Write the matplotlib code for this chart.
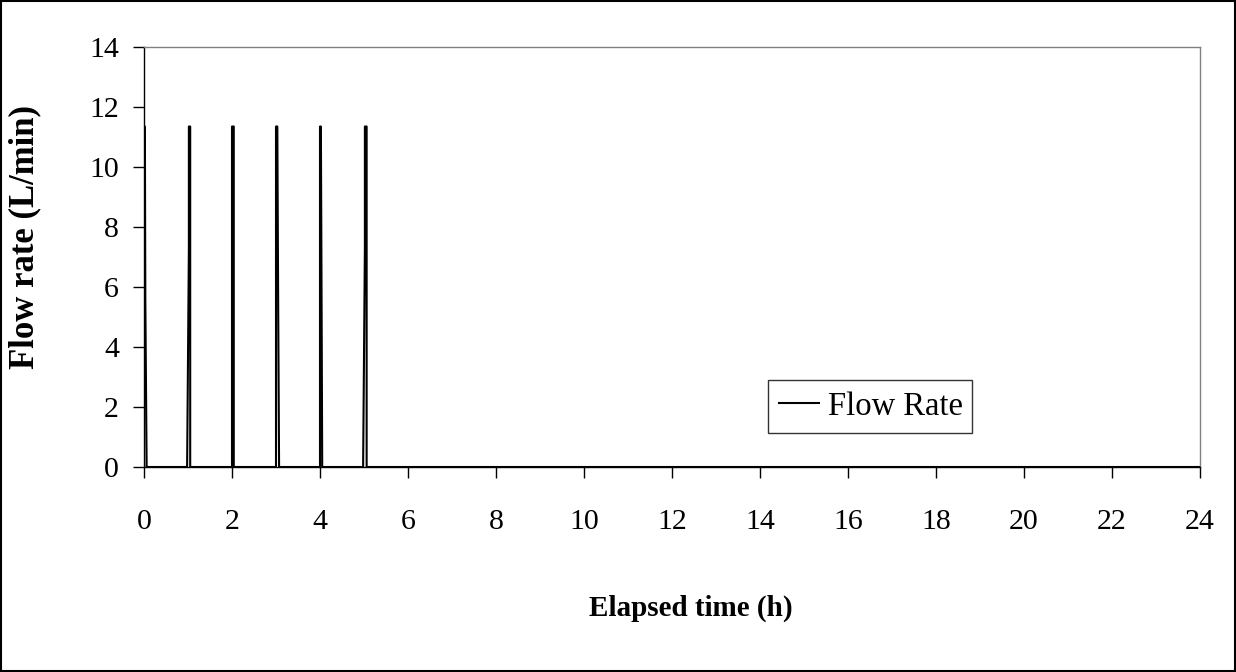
import matplotlib
matplotlib.use("Agg")
import matplotlib.pyplot as plt
from matplotlib.patches import Rectangle

# Data: elapsed time (h) and flow rate (L/min)
time_h = [0.00, 0.00, 0.02, 0.03, 0.06,
          0.98, 1.02, 1.02, 1.05, 1.05,
          2.00, 2.00, 2.04, 2.04,
          3.00, 3.00, 3.03, 3.05, 3.07,
          4.00, 4.00, 4.02, 4.04, 4.05,
          4.98, 5.02, 5.02, 5.06, 5.06,
          24.0]
flow = [0.0, 11.35, 11.35, 5.6, 0.0,
        0.0, 7.3, 11.35, 11.35, 0.0,
        0.0, 11.35, 11.35, 0.0,
        0.0, 11.35, 11.35, 5.2, 0.0,
        0.0, 11.35, 11.35, 4.0, 0.0,
        0.0, 7.3, 11.35, 11.35, 0.0,
        0.0]
x_ticks = list(range(0, 25, 2))
y_ticks = list(range(0, 15, 2))

plt.rcParams['font.family'] = ['Liberation Serif', 'DejaVu Serif']

fig = plt.figure(figsize=(12.36, 6.72), dpi=100)
ax = fig.add_axes([144/1236, 1 - 467/672, (1200-144)/1236, (467-47)/672])

ax.plot(time_h, flow, color='black', lw=1.5, label='Flow Rate')
ax.set_xlim(0, 24)
ax.set_ylim(0, 14)
ax.set_xticks(x_ticks)
ax.set_yticks(y_ticks)
ax.tick_params(labelsize=21.5, direction='out', length=8, width=1, colors='black')
ax.tick_params(axis='y', pad=10)
ax.tick_params(axis='x', pad=22)
for s in ['top', 'right']:
    ax.spines[s].set_color('#808080')
    ax.spines[s].set_linewidth(1)
for s in ['left', 'bottom']:
    ax.spines[s].set_color('black')
    ax.spines[s].set_linewidth(1)

ax.set_xlabel('Elapsed time (h)', fontsize=21, fontweight='bold')
ax.set_ylabel('Flow rate (L/min)', fontsize=25, fontweight='bold')
ax.xaxis.set_label_coords((691-144)/1056, (467-608)/420)
ax.yaxis.set_label_coords((25-144)/1056, (467-237)/420)
ax.xaxis.label.set_va('center')
ax.yaxis.label.set_va('center')
ax.yaxis.label.set_rotation_mode('anchor')

leg = ax.legend(loc='lower left', bbox_to_anchor=((768-144)/1056, (467-433)/420, 204/1056, 50/420),
                mode='expand', fontsize=23.5, frameon=True, fancybox=False,
                handlelength=1.2, handletextpad=0.3, borderaxespad=0, borderpad=0.35)
leg.get_frame().set_edgecolor('black')
leg.get_frame().set_linewidth(1)

fig.patches.append(Rectangle((0.0008, 0.0015), 0.9984, 0.997, transform=fig.transFigure,
                             fill=False, edgecolor='black', lw=1.5))

fig.savefig('out.png', dpi=100)
